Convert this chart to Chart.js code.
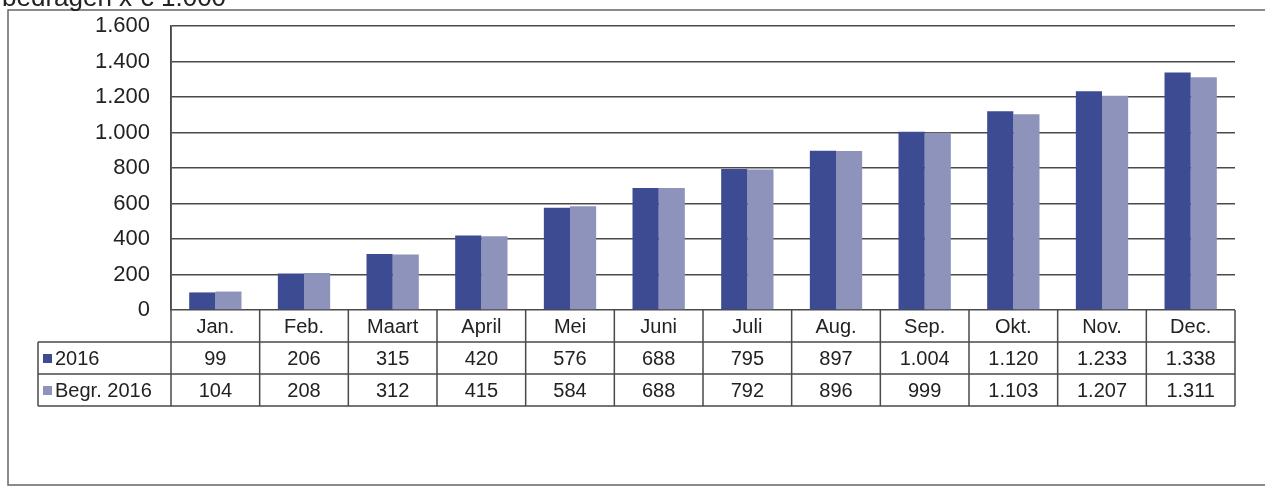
<!DOCTYPE html>
<html>
<head>
<meta charset="utf-8">
<script src="https://cdn.jsdelivr.net/npm/chart.js@4"></script>
<style>
  html, body { margin: 0; padding: 0; background: #fff; }
  #wrap { width: 1265px; height: 486px; }
</style>
</head>
<body>
<div id="wrap"><canvas id="myChart"></canvas></div>
<script>
// data
const months = ['Jan.', 'Feb.', 'Maart', 'April', 'Mei', 'Juni', 'Juli', 'Aug.', 'Sep.', 'Okt.', 'Nov.', 'Dec.'];
const actual2016 = [99, 206, 315, 420, 576, 688, 795, 897, 1004, 1120, 1233, 1338];
const budget2016 = [104, 208, 312, 415, 584, 688, 792, 896, 999, 1103, 1207, 1311];
const seriesNames = ['2016', 'Begr. 2016'];
const yTicks = [0, 200, 400, 600, 800, 1000, 1200, 1400, 1600];
const title = 'bedragen x € 1.000';

const darkBlue = 'rgb(61,75,146)';
const greyBlue = 'rgb(141,147,186)';
const lineCol = '#4a4a4a';

// dutch number format, 1.004
function nl(v) {
  return v.toString().replace(/\B(?=(\d{3})+(?!\d))/g, '.');
}

// draws the frame, the title and the data table under the bars
const tablePlugin = {
  id: 'dataTable',
  afterDraw(chart) {
    const ctx = chart.ctx;
    const area = chart.chartArea;
    const x = chart.scales.x;
    const rowH = 32;
    const top = area.bottom;
    const legendLeft = 38;
    const colW = (area.right - area.left) / months.length;

    ctx.save();
    // outer frame
    ctx.strokeStyle = '#666';
    ctx.lineWidth = 1.5;
    ctx.beginPath();
    ctx.moveTo(1265, 10); ctx.lineTo(8, 10); ctx.lineTo(8, 485); ctx.lineTo(1265, 485);
    ctx.stroke();

    // title (cut off at the top like the scan)
    ctx.fillStyle = '#222';
    ctx.font = '26px "Liberation Sans", Arial, sans-serif';
    ctx.textAlign = 'left';
    ctx.textBaseline = 'alphabetic';
    ctx.fillText(title, 2, 6);

    // table lines
    ctx.strokeStyle = lineCol;
    ctx.lineWidth = 1.5;
    ctx.beginPath();
    // left axis down to bottom of table
    ctx.moveTo(area.left, area.top); ctx.lineTo(area.left, top + rowH * 3);
    // horizontal rows
    for (let r = 1; r <= 3; r++) {
      ctx.moveTo(legendLeft, top + rowH * r);
      ctx.lineTo(area.right, top + rowH * r);
    }
    ctx.moveTo(legendLeft, top + rowH); ctx.lineTo(legendLeft, top + rowH * 3);
    for (let i = 1; i <= months.length; i++) {
      const cx = area.left + colW * i;
      ctx.moveTo(cx, top); ctx.lineTo(cx, top + rowH * 3);
    }
    ctx.stroke();

    // cell texts
    ctx.font = '20px "Liberation Sans", Arial, sans-serif';
    ctx.textAlign = 'center';
    ctx.textBaseline = 'middle';
    ctx.fillStyle = '#222';
    months.forEach((m, i) => {
      const cx = x.getPixelForValue(i);
      ctx.fillText(m, cx, top + rowH * 0.5 + 1);
      ctx.fillText(nl(actual2016[i]), cx, top + rowH * 1.5 + 1);
      ctx.fillText(nl(budget2016[i]), cx, top + rowH * 2.5 + 1);
    });

    // legend keys
    ctx.textAlign = 'left';
    [darkBlue, greyBlue].forEach((c, r) => {
      const cy = top + rowH * (1.5 + r);
      ctx.fillStyle = c;
      ctx.fillRect(43, cy - 4, 9, 9);
      ctx.fillStyle = '#222';
      ctx.fillText(seriesNames[r], 55, cy + 1);
    });
    ctx.restore();
  }
};

const data = {
  labels: months,
  datasets: [
    { label: seriesNames[0], data: actual2016, backgroundColor: darkBlue, borderWidth: 0 },
    { label: seriesNames[1], data: budget2016, backgroundColor: greyBlue, borderWidth: 0 }
  ]
};

const config = {
  type: 'bar',
  data,
  options: {
    responsive: true,
    maintainAspectRatio: false,
    animation: false,
    layout: { padding: { top: 26, bottom: 176, right: 30, left: 0 } },
    datasets: { bar: { categoryPercentage: 0.59, barPercentage: 1 } },
    plugins: { legend: { display: false }, tooltip: { enabled: false } },
    scales: {
      x: { display: false },
      y: {
        min: 0,
        max: 1600,
        afterFit(scale) {
          scale.width = 171;
          scale.paddingTop = 0;
          scale.paddingBottom = 0;
        },
        afterBuildTicks(scale) { scale.ticks = yTicks.map(v => ({ value: v })); },
        border: { display: true, color: lineCol, width: 1.5 },
        grid: { color: lineCol, lineWidth: 1.5, drawTicks: false },
        ticks: {
          padding: 21,
          color: '#222',
          font: { family: '"Liberation Sans", Arial, sans-serif', size: 22 },
          callback: v => nl(v)
        }
      }
    }
  },
  plugins: [tablePlugin]
};

const myChart = new Chart(document.getElementById('myChart'), config);
</script>
</body>
</html>
